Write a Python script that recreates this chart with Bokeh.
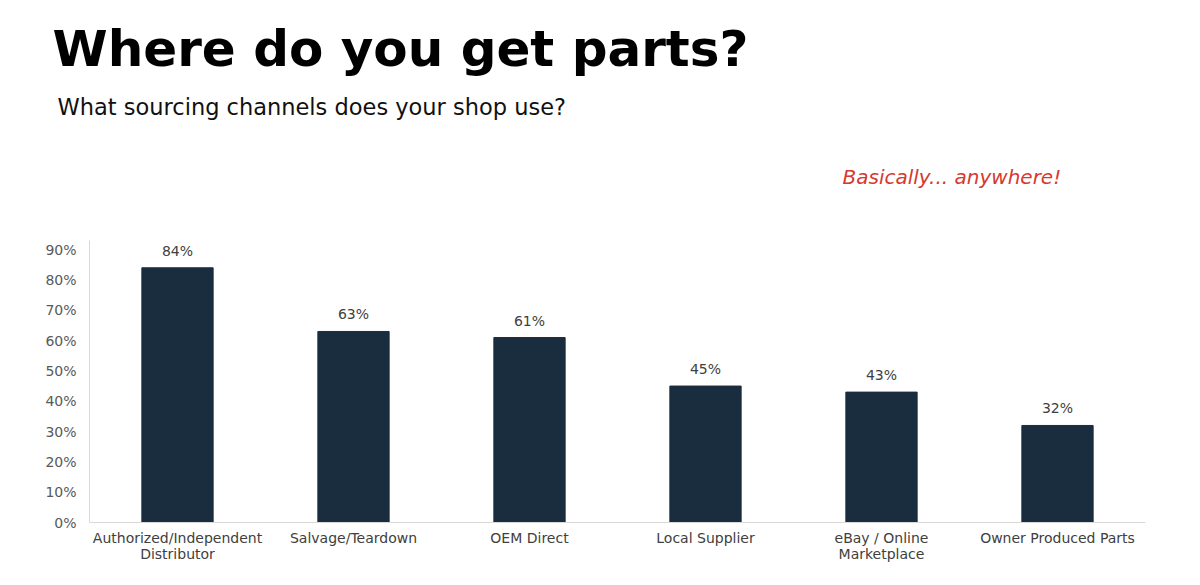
from bokeh.plotting import figure
from bokeh.layouts import column
from bokeh.models import Label, NumeralTickFormatter, FixedTicker, Range1d
from bokeh.core.properties import value
from bokeh.embed import file_html
from bokeh.resources import INLINE

categories = ["Authorized/Independent\nDistributor", "Salvage/Teardown", "OEM Direct",
              "Local Supplier", "eBay / Online\nMarketplace", "Owner Produced Parts"]
values = [0.84, 0.63, 0.61, 0.45, 0.43, 0.32]
value_labels = ["84%", "63%", "61%", "45%", "43%", "32%"]
y_ticks = [0.0, 0.1, 0.2, 0.3, 0.4, 0.5, 0.6, 0.7, 0.8, 0.9]

title_text = "Where do you get parts?"
subtitle_text = "What sourcing channels does your shop use?"
note_text = "Basically... anywhere!"

FONT = "DejaVu Sans"
W = 1184
H_HEAD = 200
H_MAIN = 369
FL, FR, FT, FB = 89, 39, 40, 47
Y_END = 0.93

# ---- header (title, subtitle, note) ----
head = figure(width=W, height=H_HEAD, x_range=Range1d(0, W), y_range=Range1d(H_HEAD, 0),
              output_backend="svg", toolbar_location=None,
              min_border_left=0, min_border_right=0,
              min_border_top=0, min_border_bottom=0)
head.frame_align = False
head.axis.visible = False
head.grid.visible = False
head.outline_line_color = None

head.text(x=[52], y=[48], text=[title_text], text_font=value(FONT),
          text_font_style="bold", text_font_size="50px", text_color="#000000",
          text_baseline="alphabetic", text_align="left")
head.text(x=[57], y=[106], text=[subtitle_text], text_font=value(FONT),
          text_font_size="22.5px", text_color="#111111",
          text_baseline="alphabetic", text_align="left")
head.text(x=[842], y=[176], text=[note_text], text_font=value(FONT),
          text_font_style="italic", text_font_size="20px", text_color="#d6392e",
          text_baseline="alphabetic", text_align="left")

# ---- bar chart ----
p = figure(x_range=categories, y_range=Range1d(0, Y_END), width=W, height=H_MAIN,
           output_backend="svg", toolbar_location=None,
           min_border_left=FL, min_border_right=FR, min_border_top=FT, min_border_bottom=FB)
p.frame_align = False
p.outline_line_color = None
p.xgrid.grid_line_color = None
p.ygrid.grid_line_color = None

p.vbar(x=categories, top=values, width=0.405, color="#1a2d3e")

p.yaxis.ticker = FixedTicker(ticks=y_ticks)
p.yaxis.formatter = NumeralTickFormatter(format="0%")
p.yaxis.major_tick_line_color = None
p.yaxis.minor_tick_line_color = None
p.yaxis.axis_line_color = "#d9d9d9"
p.yaxis.major_label_text_font = FONT
p.yaxis.major_label_text_font_size = "14px"
p.yaxis.major_label_text_color = "#595959"
p.yaxis.major_label_standoff = 7

p.xaxis.major_tick_line_color = None
p.xaxis.minor_tick_line_color = None
p.xaxis.axis_line_color = "#d9d9d9"
p.xaxis.major_label_text_font = FONT
p.xaxis.major_label_text_font_size = "14px"
p.xaxis.major_label_text_color = "#404040"
p.xaxis.major_label_text_line_height = 1.05
p.xaxis.major_label_standoff = 1

for i, (v, t) in enumerate(zip(values, value_labels)):
    p.add_layout(Label(x=i + 0.5, y=v, text=t, y_offset=9,
                       text_align="center", text_baseline="bottom",
                       text_font=FONT, text_font_size="14px",
                       text_color="#404040"))

layout = column(head, p, spacing=0)
open("out.html", "w").write(file_html(layout, INLINE))
